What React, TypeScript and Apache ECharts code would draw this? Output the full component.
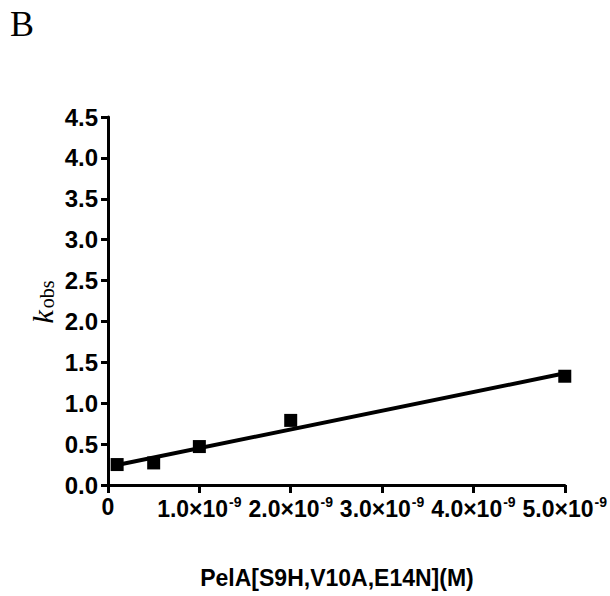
import React, { useEffect, useRef } from "react";
import * as echarts from "echarts";

const concentrations = [0.1e-9, 0.5e-9, 1.0e-9, 2.0e-9, 5.0e-9];
const kobs = [0.25, 0.27, 0.47, 0.79, 1.33];
const fitX = [0.1e-9, 5.0e-9];
const fitY = [0.245, 1.366];
const yTicks = [0, 0.5, 1, 1.5, 2, 2.5, 3, 3.5, 4, 4.5];
const xTickMantissa = ["0", "1.0", "2.0", "3.0", "4.0", "5.0"];

export default function App() {
  const ref = useRef<HTMLDivElement>(null);
  useEffect(() => {
    if (!ref.current) return;
    const chart = echarts.init(ref.current, undefined, { renderer: "svg" });
    const tickFont = "'Liberation Sans', Arial, sans-serif";
    chart.setOption({
      animation: false,
      backgroundColor: "#ffffff",
      grid: { left: 108, right: 45, top: 117, bottom: 111, containLabel: false },
      xAxis: {
        type: "value",
        min: 0,
        max: 5e-9,
        interval: 1e-9,
        splitLine: { show: false },
        axisLine: { show: true, onZero: false, lineStyle: { color: "#000", width: 3 } },
        axisTick: { show: true, length: 8, lineStyle: { color: "#000", width: 3 } },
        axisLabel: {
          margin: 10,
          color: "#000",
          formatter: (v: number) => {
            const i = Math.round(v / 1e-9);
            if (i === 0) return "{a|0}";
            return `{a|${xTickMantissa[i]}×10}{b|-9}`;
          },
          rich: {
            a: { fontFamily: tickFont, fontWeight: "bold", fontSize: 23, color: "#000" },
            b: { fontFamily: tickFont, fontWeight: "bold", fontSize: 14, color: "#000", padding: [0, 0, 13, 1] },
          },
        },
      },
      yAxis: {
        type: "value",
        min: 0,
        max: 4.5,
        interval: 0.5,
        splitLine: { show: false },
        axisLine: { show: true, lineStyle: { color: "#000", width: 3 } },
        axisTick: { show: true, length: 7, lineStyle: { color: "#000", width: 3 } },
        axisLabel: {
          margin: 10,
          color: "#000",
          fontFamily: tickFont,
          fontWeight: "bold",
          fontSize: 24,
          formatter: (v: number) => {
            const t = yTicks.find((y) => Math.abs(y - v) < 1e-6);
            return (t ?? v).toFixed(1);
          },
        },
      },
      graphic: [
        {
          type: "text",
          left: 10,
          top: 6,
          style: { text: "B", font: "36px 'Liberation Serif', 'Times New Roman', serif", fill: "#000" },
        },
        {
          type: "text",
          x: 42,
          y: 302,
          rotation: Math.PI / 2,
          style: {
            text: "{k|k}{s|obs}",
            align: "center",
            verticalAlign: "middle",
            rich: {
              k: { font: "italic 30px 'Liberation Serif', 'Times New Roman', serif", fill: "#000" },
              s: { font: "20px 'Liberation Serif', 'Times New Roman', serif", fill: "#000", padding: [9, 0, 0, 2] },
            },
          },
        },
        {
          type: "text",
          x: 337,
          y: 578,
          style: {
            text: "PelA[S9H,V10A,E14N](M)",
            align: "center",
            verticalAlign: "middle",
            font: "bold 23px 'Liberation Sans', Arial, sans-serif",
            fill: "#000",
          },
        },
      ],
      series: [
        {
          type: "line",
          data: fitX.map((x, i) => [x, fitY[i]]),
          symbol: "none",
          lineStyle: { color: "#000", width: 4 },
          z: 2,
        },
        {
          type: "scatter",
          data: concentrations.map((x, i) => [x, kobs[i]]),
          symbol: "rect",
          symbolSize: 13,
          itemStyle: { color: "#000", opacity: 1 },
          z: 3,
        },
      ],
    });
    return () => chart.dispose();
  }, []);
  return <div ref={ref} style={{ position: "fixed", left: 0, top: 0, width: 610, height: 596 }} />;
}
